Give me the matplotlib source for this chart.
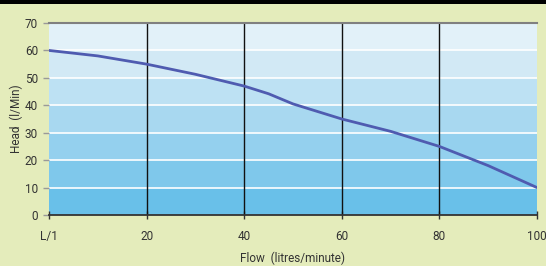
import matplotlib
matplotlib.use("Agg")
import matplotlib.pyplot as plt
from matplotlib.patches import Rectangle

flow = [0, 10, 20, 30, 40, 45, 50, 60, 70, 80, 90, 100]
head = [60, 58, 55, 51.3, 47, 44.2, 40.5, 35, 30.5, 25, 18, 10]
xticks = [0, 20, 40, 60, 80, 100]
xticklabels = ["L/1", "20", "40", "60", "80", "100"]
yticks = [0, 10, 20, 30, 40, 50, 60, 70]
band_colors = ["#69c0e9", "#7fc8eb", "#94d0ee", "#a8d8f0", "#bde1f3", "#d2e9f5", "#e2f1f9"]

plt.rcParams['font.family'] = ['Roboto', 'DejaVu Sans']

fig = plt.figure(figsize=(5.46, 2.66), dpi=100)
fig.patch.set_facecolor("#e4ecbb")
# top black strip
fig.add_artist(Rectangle((0, 1 - 4/266), 1, 4/266, transform=fig.transFigure,
                         facecolor="black", edgecolor="none"))

ax = fig.add_axes([49/546, 51/266, 488/546, 192/266])
ax.set_xlim(0, 100)
ax.set_ylim(0, 70)
for i, c in enumerate(band_colors):
    ax.axhspan(i*10, i*10+10, color=c, lw=0, zorder=0)
for y in yticks[1:-1]:
    ax.axhline(y, color="white", lw=1.2, zorder=1)
for x in xticks[1:-1]:
    ax.axvline(x, color="#111111", lw=1.0, zorder=2)

ax.plot(flow, head, color="#4f5bb0", lw=2.0, zorder=3, solid_capstyle="round")

for s in ["left", "right"]:
    ax.spines[s].set_visible(False)
ax.spines["top"].set_color("#808080")
ax.spines["top"].set_linewidth(1.5)
ax.spines["bottom"].set_color("#333333")
ax.spines["bottom"].set_linewidth(1.3)

ax.set_xticks(xticks)
ax.set_xticklabels(xticklabels)
ax.set_yticks(yticks)
ax.tick_params(axis="x", direction="inout", length=6, width=1, color="#333333",
               labelsize=8.5, labelcolor="#333333", pad=8)
ax.tick_params(axis="y", direction="out", length=4, width=1, color="#999999",
               labelsize=8.5, labelcolor="#333333", pad=4)
ax.set_xlabel("Flow  (litres/minute)", fontsize=8.5, color="#333333", labelpad=6)
ax.set_ylabel("Head  (l/Min)", fontsize=8.5, color="#333333")
ax.yaxis.set_label_coords(-0.054, 0.5)

fig.savefig("out.png", dpi=100, facecolor=fig.get_facecolor())
